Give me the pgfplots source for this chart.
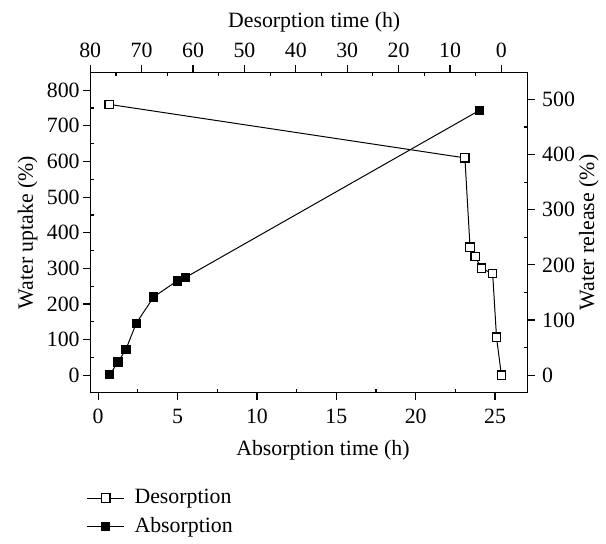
\documentclass[border=0pt]{standalone}
\usepackage{fontspec}
\setmainfont{Liberation Serif}
\usepackage{pgfplots}
\pgfplotsset{compat=1.18}
\pgfplotsset{
  every axis/.append style={
    width=220.5pt, height=161.5pt, scale only axis,
    axis line style={line width=0.6pt},
    tick style={line width=0.6pt, black},
    tick align=outside,
    major tick length=3.5pt,
    minor tick length=-1.8pt,
    /pgf/number format/assume math mode=true,
  },
  desorp/.style={black, line width=0.5pt, mark=square*, mark size=2.1pt,
    mark options={fill=white, draw=black, line width=0.6pt}},
  absorp/.style={black, line width=0.5pt, mark=square*, mark size=2.1pt,
    mark options={fill=black, draw=black}},
}
\begin{document}
\fontsize{11}{13.2}\selectfont
\begin{tikzpicture}
\begin{axis}[
    clip=false,
    xmin=-0.5, xmax=27.05, ymin=-49, ymax=850,
    xtick={0,5,...,25}, ytick={0,100,...,800},
    minor x tick num=1, minor y tick num=1,
    xtick pos=left, ytick pos=left,
    xticklabel style={yshift=-1pt},
    yticklabel style={xshift=2pt},
    xlabel={Absorption time (h)},
    ylabel={Water uptake (\%)},
    every axis x label/.style={at={(rel axis cs:0.532,-0.18)}, anchor=center},
    every axis y label/.style={at={(rel axis cs:-0.143,0.5)}, rotate=90, anchor=center},
    legend style={draw=none, fill=none, at={(rel axis cs:-0.022,-0.275)},
      anchor=north west, cells={anchor=west}, column sep=3pt, row sep=1.2pt},
    legend image code/.code={
      \draw[mark repeat=2,mark phase=2] plot coordinates {(0pt,0pt) (9.25pt,0pt) (18.5pt,0pt)};},
  ]
  \path (rel axis cs:-0.2063,1.226) rectangle (rel axis cs:1.1678,-0.4396);
  \addlegendimage{desorp}
  \addplot[absorp] coordinates {(0.73,2) (1.25,37) (1.75,73) (2.4,146) (3.5,220) (4.98,265) (5.48,274) (24.0,743)};
  \legend{Desorption, Absorption}
\end{axis}
\begin{axis}[
    x dir=reverse,
    xmin=-5.1, xmax=80, ymin=-31.8, ymax=549,
    xtick={0,10,...,80}, ytick={0,100,...,500},
    minor x tick num=1, minor y tick num=1,
    xtick pos=right, xticklabel pos=right,
    ytick pos=right, yticklabel pos=right,
    xlabel={Desorption time (h)},
    ylabel={Water release (\%)},
    every axis x label/.style={at={(rel axis cs:0.512,1.158)}, anchor=center},
    every axis y label/.style={at={(rel axis cs:1.14,0.5)}, rotate=90, anchor=center},
  ]
  \addplot[desorp] coordinates {(76.3,491) (7.1,394) (6.1,232) (5.1,215) (3.9,194) (1.7,184) (0.95,69) (0,0)};
\end{axis}
\end{tikzpicture}
\end{document}
